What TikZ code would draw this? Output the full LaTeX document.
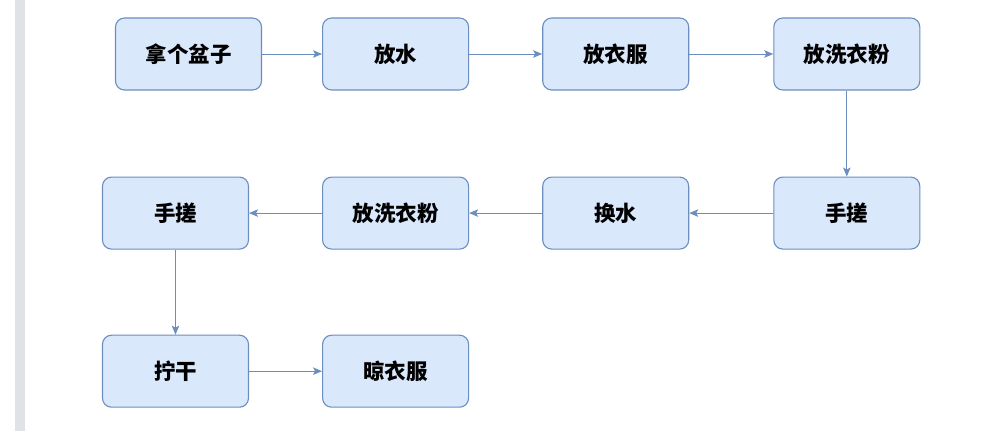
\documentclass[tikz,border=0pt]{standalone}
\usepackage{fontspec}
\newfontfamily\cjk{Noto Sans CJK SC}
\usetikzlibrary{arrows.meta,positioning}
\definecolor{boxfill}{HTML}{DAE8FC}
\definecolor{boxline}{HTML}{6C8EBF}
\definecolor{strip}{HTML}{DFE3E8}
\tikzset{
  box/.style={draw=boxline, fill=boxfill, line width=1.1pt, rounded corners=9pt,
    minimum width=146pt, minimum height=72pt, inner sep=0pt, align=center,
    font=\cjk\bfseries\fontsize{21.5pt}{24pt}\selectfont},
  flow/.style={-{Stealth[length=9pt,width=7.5pt,inset=2pt]}, draw=boxline, line width=0.9pt},
}
\begin{document}
\begin{tikzpicture}[x=1pt, y=1pt, every node/.style={box}]
    \useasboundingbox (0,0) rectangle (999,433);
    \fill[strip] (15,2) rectangle (25,433);
    \node at (188.5,379) (a) {拿个盆子};
    \node[right=60pt of a] (b) {放水};
    \node[right=73pt of b] (c) {放衣服};
    \node[right=84pt of c] (d) {放洗衣粉};
    \node[below=86pt of d] (e) {手搓};
    \node[left=84pt of e] (f) {换水};
    \node[left=73pt of f] (g) {放洗衣粉};
    \node[left=73pt of g] (h) {手搓};
    \node[below=85pt of h] (i) {拧干};
    \node[right=73pt of i] (j) {晾衣服};
    \draw[flow] (a) -- (b); \draw[flow] (b) -- (c); \draw[flow] (c) -- (d);
    \draw[flow] (d) -- (e);
    \draw[flow] (e) -- (f); \draw[flow] (f) -- (g); \draw[flow] (g) -- (h);
    \draw[flow] (h) -- (i);
    \draw[flow] (i) -- (j);
  \end{tikzpicture}
\end{document}
